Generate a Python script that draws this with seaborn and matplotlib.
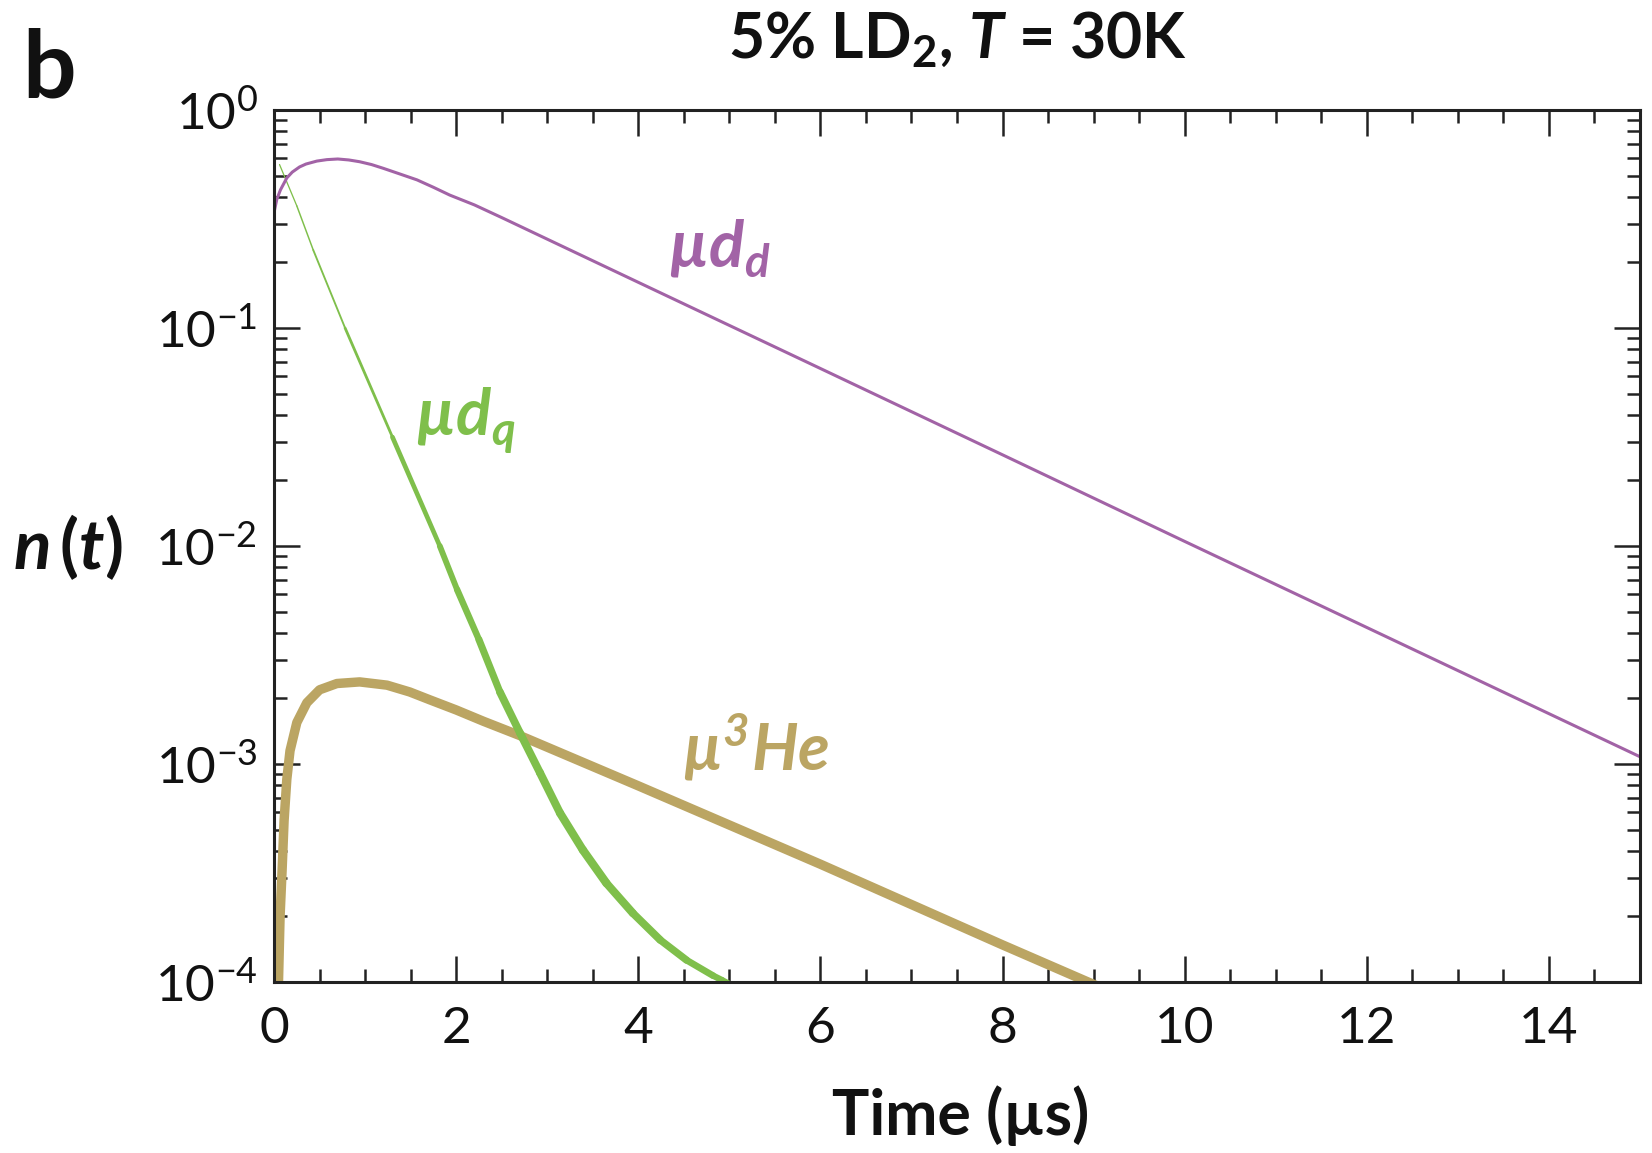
import numpy as np
import pandas as pd
import matplotlib
matplotlib.use("Agg")
import matplotlib.pyplot as plt
import seaborn as sns
from matplotlib.collections import LineCollection
from matplotlib.ticker import MultipleLocator, FixedLocator, FixedFormatter, LogLocator, NullFormatter

# ---------------- data ----------------
t_mudd = [0.0, 0.03, 0.07, 0.14, 0.2, 0.28, 0.35, 0.47, 0.58, 0.70, 0.82, 0.94, 1.07, 1.2, 1.38,
          1.57, 1.75, 1.93, 2.2, 2.5, 4.0, 6.0, 8.0, 10.0, 12.0, 15.0]
n_mudd = [0.339, 0.389, 0.430, 0.488, 0.519, 0.548, 0.565, 0.583, 0.592, 0.596, 0.590, 0.579,
          0.562, 0.540, 0.509, 0.478, 0.442, 0.407, 0.367, 0.321, 0.162, 0.0652, 0.0262,
          0.0105, 0.00423, 0.00108]

t_mudq = [0.06, 0.25, 0.43, 0.78, 1.3, 1.82, 2.01, 2.25, 2.48, 2.70, 2.92, 3.14, 3.39, 3.65,
          3.94, 4.24, 4.53, 4.82, 4.92, 5.0]
n_mudq = [0.562, 0.363, 0.228, 0.1, 0.0316, 0.01, 6.31e-3, 3.72e-3, 2.14e-3, 1.39e-3, 9.12e-4,
          5.96e-4, 4.04e-4, 2.84e-4, 2.07e-4, 1.56e-4, 1.26e-4, 1.07e-4, 1.02e-4, 9.8e-5]

t_mu3he = [0.04, 0.066, 0.088, 0.11, 0.14, 0.175, 0.25, 0.36, 0.50, 0.69, 0.94, 1.24, 1.49, 1.71,
           2.0, 2.3, 2.7, 4.0, 6.0, 8.0, 9.05]
n_mu3he = [7.08e-5, 2.0e-4, 3.24e-4, 5.50e-4, 8.51e-4, 1.15e-3, 1.55e-3, 1.91e-3, 2.19e-3,
           2.34e-3, 2.38e-3, 2.30e-3, 2.14e-3, 1.97e-3, 1.77e-3, 1.57e-3, 1.35e-3, 7.94e-4,
           3.47e-4, 1.48e-4, 9.55e-5]

x_ticks = [0, 2, 4, 6, 8, 10, 12, 14]
x_tick_labels = ["0", "2", "4", "6", "8", "10", "12", "14"]
y_ticks = [1e-4, 1e-3, 1e-2, 1e-1, 1.0]
y_tick_labels = [r"$10^{-4}$", r"$10^{-3}$", r"$10^{-2}$", r"$10^{-1}$", r"$10^{0}$"]

MU = "\u00b5"
title_text = r"5% LD$_\mathbf{2}$, $\mathbfit{T}$ = 30K"
xlabel_text = "Time (" + MU + "s)"
ylabel_text = r"$\mathbfit{n}\,\mathbf{(}\mathbfit{t}\mathbf{)}$"
panel_text = "b"
label_mudd = "$\\mathbfit{" + MU + "d}_{\\mathbfit{d}}$"
label_mudq = "$\\mathbfit{" + MU + "d}_{\\mathbfit{q}}$"
label_mu3he = "$\\mathbfit{" + MU + "}^{\\mathbfit{3}}\\mathbfit{He}$"

# ---------------- style ----------------
c_purple = "#a263a6"
c_green = "#7fbf4b"
c_gold = "#bba563"

sns.set_theme(style="white")
plt.rcParams['font.family'] = ['Lato', 'DejaVu Sans']
plt.rcParams['mathtext.fontset'] = 'custom'
plt.rcParams['mathtext.rm'] = 'Lato'
plt.rcParams['mathtext.it'] = 'Lato:italic'
plt.rcParams['mathtext.bf'] = 'Lato:bold'
plt.rcParams['mathtext.bfit'] = 'Lato:italic:bold'
plt.rcParams['mathtext.fallback'] = 'stixsans'

fig = plt.figure(figsize=(16.52, 11.53), dpi=100)
fig.patch.set_facecolor("white")
ax = fig.add_axes([0.1659, 0.1483, 0.8268, 0.7563])
ax.set_facecolor("white")
ax.set_yscale("log")

df_gold = pd.DataFrame({"t": t_mu3he, "n": n_mu3he})
df_purple = pd.DataFrame({"t": t_mudd, "n": n_mudd})

sns.lineplot(data=df_gold, x="t", y="n", ax=ax, color=c_gold, linewidth=6.8,
             sort=False, estimator=None, solid_joinstyle="round", solid_capstyle="butt")

# green: width grows along the curve
tq = np.array(t_mudq)
nq = np.array(n_mudq)
segs = [[(tq[i], nq[i]), (tq[i + 1], nq[i + 1])] for i in range(len(tq) - 1)]
tmid = 0.5 * (tq[:-1] + tq[1:])
widths = np.interp(tmid, [0.0, 0.5, 1.0, 1.8, 2.6, 3.5, 4.3, 5.0],
                   [0.8, 1.2, 1.9, 4.0, 5.6, 6.0, 5.4, 4.4])
lc = LineCollection(segs, colors=c_green, linewidths=widths, capstyle="round", joinstyle="round")
ax.add_collection(lc)

sns.lineplot(data=df_purple, x="t", y="n", ax=ax, color=c_purple, linewidth=2.2,
             sort=False, estimator=None)

ax.set_xlim(0, 15)
ax.set_ylim(1e-4, 1.0)
ax.set_xlabel("")
ax.set_ylabel("")

ax.xaxis.set_major_locator(FixedLocator(x_ticks))
ax.xaxis.set_major_formatter(FixedFormatter(x_tick_labels))
ax.xaxis.set_minor_locator(MultipleLocator(0.5))
ax.yaxis.set_major_locator(FixedLocator(y_ticks))
ax.yaxis.set_major_formatter(FixedFormatter(y_tick_labels))
ax.yaxis.set_minor_locator(LogLocator(base=10, subs=np.arange(2, 10), numticks=20))
ax.yaxis.set_minor_formatter(NullFormatter())

ax.tick_params(which="both", direction="in", top=True, right=True, bottom=True, left=True,
               color="#222222", width=1.8)
ax.tick_params(which="major", length=19)
ax.tick_params(which="minor", length=9.5)
ax.tick_params(axis="x", which="major", labelsize=37, pad=17)
ax.tick_params(axis="y", which="major", labelsize=37, pad=12)
for lab in ax.get_xticklabels() + ax.get_yticklabels():
    lab.set_color("#111111")
for sp in ax.spines.values():
    sp.set_visible(True)
    sp.set_color("#222222")
    sp.set_linewidth(2.2)

# curve labels
ax.text(4.33, 10 ** -0.72, label_mudd, color=c_purple, fontsize=47, ha="left", va="baseline")
ax.text(1.55, 10 ** -1.495, label_mudq, color=c_green, fontsize=47, ha="left", va="baseline")
ax.text(4.48, 10 ** -3.03, label_mu3he, color=c_gold, fontsize=47, ha="left", va="baseline")

# figure texts
W, H = 1652.0, 1153.0
fig.text(958 / W, 1 - 58 / H, title_text, fontsize=45, fontweight="bold", ha="center",
         va="baseline", color="#111111")
fig.text(961 / W, 1 - 1135 / H, xlabel_text, fontsize=45, fontweight="bold", ha="center",
         va="baseline", color="#111111")
fig.text(13 / W, 1 - 569 / H, ylabel_text, fontsize=50, ha="left", va="baseline",
         color="#111111")
fig.text(22 / W, 1 - 97 / H, panel_text, fontsize=68, fontweight="bold", ha="left",
         va="baseline", color="#111111")

fig.savefig("out.png", dpi=100, facecolor="white")
